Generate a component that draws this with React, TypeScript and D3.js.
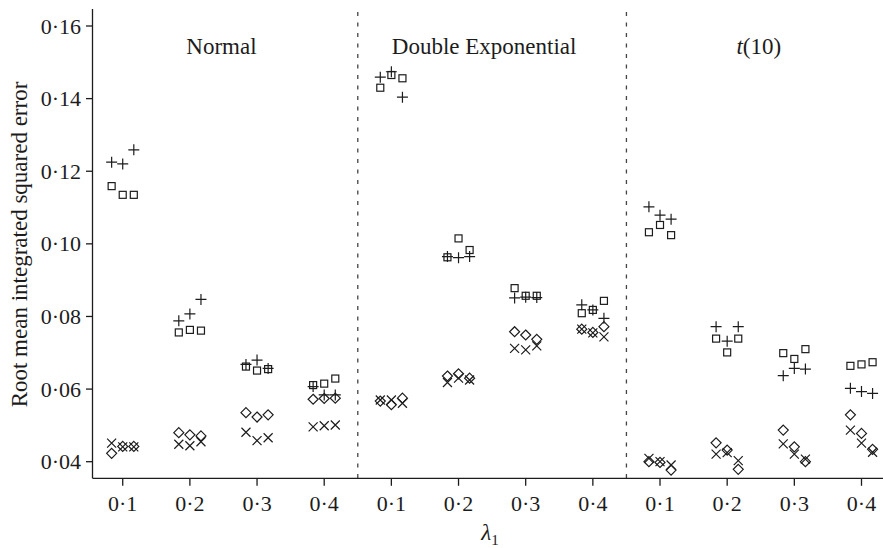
import * as d3 from "d3";

// panels and x categories
const distributions = ["Normal", "Double Exponential", "t(10)"];
const lambdaLabels = ["0·1", "0·2", "0·3", "0·4"];
const yTicks = [0.04, 0.06, 0.08, 0.1, 0.12, 0.14, 0.16];

// three settings per lambda, lambda 0.1..0.4 one after another (12 values)
const normalPlus = [0.1225, 0.1220, 0.1259, 0.0788, 0.0807, 0.0847, 0.0668, 0.0680, 0.0657, 0.0607, 0.0584, 0.0584];
const normalSquare = [0.1159, 0.1135, 0.1135, 0.0756, 0.0763, 0.0761, 0.0662, 0.0651, 0.0655, 0.0611, 0.0615, 0.0629];
const normalDiamond = [0.0423, 0.0442, 0.0442, 0.0480, 0.0474, 0.0471, 0.0535, 0.0523, 0.0529, 0.0572, 0.0574, 0.0575];
const normalCross = [0.0451, 0.0441, 0.0441, 0.0448, 0.0444, 0.0455, 0.0481, 0.0458, 0.0466, 0.0496, 0.0499, 0.0501];

const dexpPlus = [0.1459, 0.1474, 0.1404, 0.0965, 0.0962, 0.0965, 0.0851, 0.0853, 0.0852, 0.0832, 0.0818, 0.0795];
const dexpSquare = [0.1430, 0.1465, 0.1456, 0.0963, 0.1015, 0.0983, 0.0878, 0.0857, 0.0857, 0.0809, 0.0818, 0.0843];
const dexpDiamond = [0.0567, 0.0557, 0.0575, 0.0636, 0.0642, 0.0630, 0.0758, 0.0749, 0.0737, 0.0765, 0.0756, 0.0772];
const dexpCross = [0.0570, 0.0570, 0.0561, 0.0618, 0.0630, 0.0625, 0.0712, 0.0708, 0.0719, 0.0765, 0.0755, 0.0744];

const tPlus = [0.1102, 0.1079, 0.1068, 0.0772, 0.0732, 0.0772, 0.0637, 0.0657, 0.0655, 0.0602, 0.0593, 0.0588];
const tSquare = [0.1032, 0.1052, 0.1024, 0.0739, 0.0701, 0.0739, 0.0699, 0.0683, 0.0710, 0.0664, 0.0668, 0.0674];
const tDiamond = [0.0400, 0.0398, 0.0377, 0.0452, 0.0432, 0.0379, 0.0487, 0.0441, 0.0400, 0.0529, 0.0478, 0.0434];
const tCross = [0.0409, 0.0400, 0.0391, 0.0421, 0.0425, 0.0403, 0.0449, 0.0421, 0.0407, 0.0487, 0.0451, 0.0426];

const settingOffsets = [-0.165, 0, 0.165];

const panels = [
  { plus: normalPlus, square: normalSquare, diamond: normalDiamond, cross: normalCross },
  { plus: dexpPlus, square: dexpSquare, diamond: dexpDiamond, cross: dexpCross },
  { plus: tPlus, square: tSquare, diamond: tDiamond, cross: tCross },
];

const W = 883;
const H = 548;
const ink = "#1c1c1c";
const font = "'Liberation Serif', 'Times New Roman', serif";

function Marker({ type, cx, cy }: { type: string; cx: number; cy: number }) {
  if (type === "plus") {
    const r = 5.5;
    return <path d={`M${cx - r},${cy}H${cx + r}M${cx},${cy - r}V${cy + r}`} stroke={ink} strokeWidth={1.2} fill="none" />;
  }
  if (type === "square") {
    const r = 3.5;
    return <rect x={cx - r} y={cy - r} width={2 * r} height={2 * r} stroke={ink} strokeWidth={1.2} fill="none" />;
  }
  if (type === "diamond") {
    const r = 5;
    return <path d={`M${cx},${cy - r}L${cx + r},${cy}L${cx},${cy + r}L${cx - r},${cy}Z`} stroke={ink} strokeWidth={1.2} fill="none" />;
  }
  const r = 4.5;
  return <path d={`M${cx - r},${cy - r}L${cx + r},${cy + r}M${cx - r},${cy + r}L${cx + r},${cy - r}`} stroke={ink} strokeWidth={1.2} fill="none" />;
}

export default function App() {
  const x = d3.scaleLinear().domain([0.55, 12.35]).range([92.5, 885]);
  const y = d3.scaleLinear().domain([0.04, 0.16]).range([461.7, 26]);
  const yTop = 9;
  const yBottom = 478.3;
  const fmt = (v: number) => d3.format(".2f")(v).replace(".", "·");

  const marks: JSX.Element[] = [];
  panels.forEach((p, pi) => {
    (["plus", "square", "diamond", "cross"] as const).forEach((type) => {
      p[type].forEach((v, i) => {
        const g = Math.floor(i / 3);
        const s = i % 3;
        const pos = pi * 4 + g + 1 + settingOffsets[s];
        marks.push(<Marker key={`${pi}-${type}-${i}`} type={type} cx={x(pos)} cy={y(v)} />);
      });
    });
  });

  return (
    <svg width={W} height={H} style={{ position: "absolute", left: 0, top: 0, background: "#fff" }} fontFamily={font}>
      {/* dashed panel separators */}
      {[4.5, 8.5].map((d) => (
        <line key={d} x1={x(d)} x2={x(d)} y1={12} y2={yBottom} stroke="#444" strokeWidth={1.3} strokeDasharray="4,6.5" />
      ))}

      {/* panel titles */}
      {distributions.map((name, i) => (
        <text key={name} x={x(i * 4 + 2.5) - (i === 1 ? 8 : 2)} y={54} textAnchor="middle" fontSize={23} fill={ink}>
          {name === "t(10)" ? (
            <>
              <tspan fontStyle="italic">t</tspan>(10)
            </>
          ) : (
            name
          )}
        </text>
      ))}

      {marks}

      {/* y axis */}
      <line x1={x(0.55)} x2={x(0.55)} y1={yTop} y2={yBottom} stroke={ink} strokeWidth={1.3} />
      {yTicks.map((t) => (
        <g key={t}>
          <line x1={86} x2={x(0.55)} y1={y(t)} y2={y(t)} stroke={ink} strokeWidth={1.3} />
          <text x={81} y={y(t) + 7.5} textAnchor="end" fontSize={22} fill={ink}>
            {fmt(t)}
          </text>
        </g>
      ))}
      <text transform={`translate(27,244.5) rotate(-90)`} textAnchor="middle" fontSize={23} fill={ink}>
        Root mean integrated squared error
      </text>

      {/* x axis */}
      <line x1={x(0.55)} x2={W} y1={yBottom} y2={yBottom} stroke={ink} strokeWidth={1.3} />
      {d3.range(12).map((i) => (
        <g key={i}>
          <line x1={x(i + 1)} x2={x(i + 1)} y1={yBottom} y2={yBottom + 7.5} stroke={ink} strokeWidth={1.3} />
          <text x={x(i + 1)} y={511} textAnchor="middle" fontSize={22} fill={ink}>
            {lambdaLabels[i % 4]}
          </text>
        </g>
      ))}
      <text x={490} y={540} textAnchor="middle" fontSize={23} fill={ink}>
        <tspan fontStyle="italic">λ</tspan>
        <tspan fontSize={15} dy={5}>1</tspan>
      </text>
    </svg>
  );
}
